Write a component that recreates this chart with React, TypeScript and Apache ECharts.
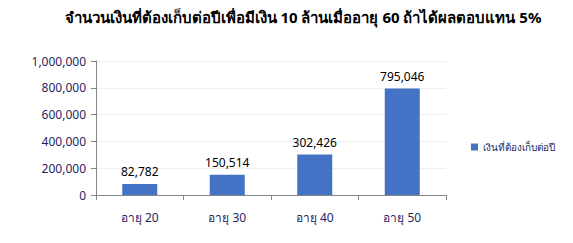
import React, { useEffect, useRef } from "react";
import * as echarts from "echarts";

const categories = ["อายุ 20", "อายุ 30", "อายุ 40", "อายุ 50"];
const values = [82782, 150514, 302426, 795046];
const seriesName = "เงินที่ต้องเก็บต่อปี";
const titleText = "จำนวนเงินที่ต้องเก็บต่อปีเพื่อมีเงิน 10 ล้านเมื่ออายุ 60 ถ้าได้ผลตอบแทน 5%";

const fmt = (v: number) => v.toLocaleString("en-US");

export default function App() {
  const ref = useRef<HTMLDivElement>(null);
  useEffect(() => {
    const chart = echarts.init(ref.current!, null, { renderer: "svg" });
    chart.setOption({
      animation: false,
      textStyle: { fontFamily: "Tahoma, 'Noto Sans', sans-serif" },
      title: {
        text: titleText,
        left: 298,
        textAlign: "center",
        top: 4,
        textStyle: { fontSize: 15, fontWeight: "bold", color: "#000" },
      },
      legend: {
        orient: "vertical",
        left: 466,
        top: 137,
        itemWidth: 7,
        itemHeight: 7,
        itemGap: 4,
        icon: "rect",
        textStyle: { fontSize: 10, color: "#1F1F5F" },
        data: [seriesName],
      },
      grid: { left: 96, right: 127, top: 61, bottom: 48 },
      xAxis: {
        type: "category",
        data: categories,
        axisLine: { lineStyle: { color: "#868686" } },
        axisTick: { show: true, length: 5, lineStyle: { color: "#868686" } },
        axisLabel: { fontSize: 12, color: "#1F1F5F", margin: 16 },
      },
      yAxis: {
        type: "value",
        min: 0,
        max: 1000000,
        interval: 200000,
        axisLine: { show: true, lineStyle: { color: "#868686" } },
        axisTick: { show: true, length: 5, lineStyle: { color: "#868686" } },
        axisLabel: { fontSize: 12, color: "#1F1F5F", margin: 10, formatter: (v: number) => fmt(v) },
        splitLine: { lineStyle: { color: "#EEEEEE" } },
      },
      series: [
        {
          name: seriesName,
          type: "bar",
          data: values,
          barWidth: 35,
          itemStyle: { color: "#4472C4" },
          label: {
            show: true,
            position: "top",
            distance: 6,
            fontSize: 12,
            color: "#000",
            formatter: (p: any) => fmt(p.value),
          },
        },
      ],
    });
    return () => chart.dispose();
  }, []);
  return <div ref={ref} style={{ width: 573, height: 243, margin: -8 }} />;
}
